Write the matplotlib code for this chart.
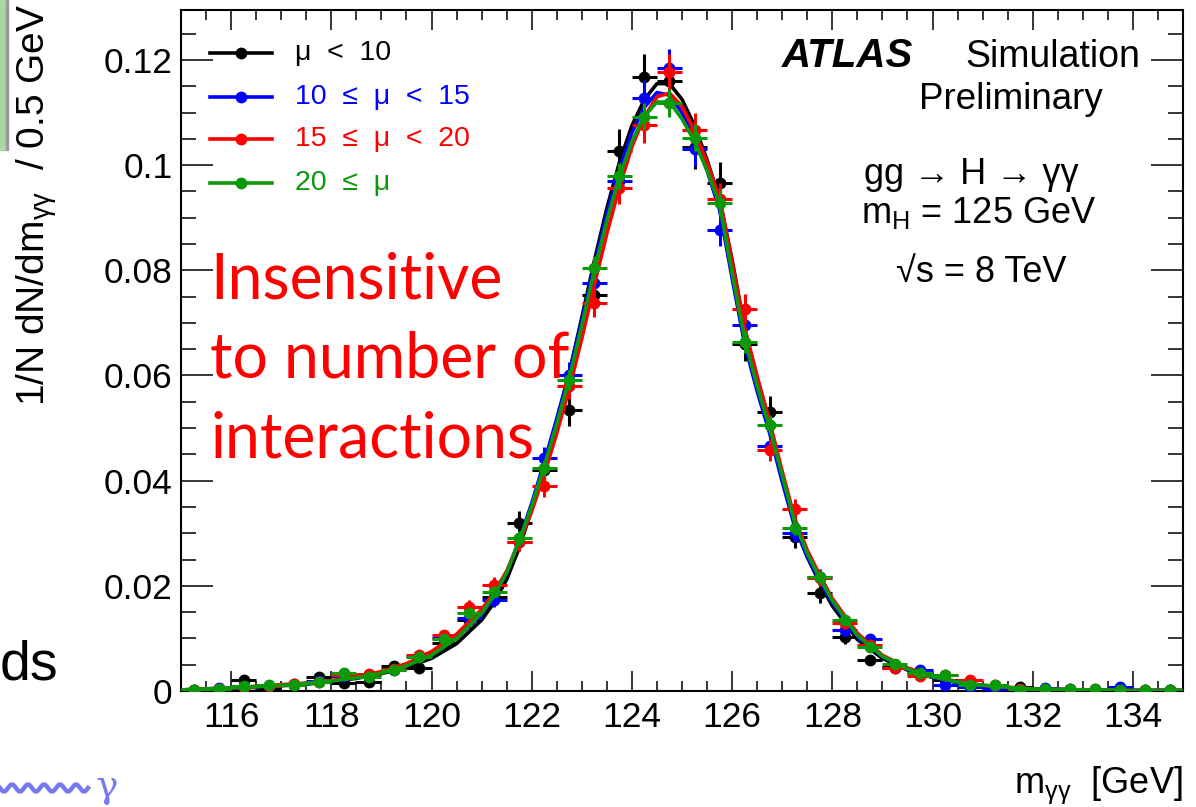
import numpy as np
import matplotlib.pyplot as plt
from matplotlib.lines import Line2D
from matplotlib.patches import Rectangle
from matplotlib.ticker import MultipleLocator, FixedLocator, FixedFormatter

plt.rcParams['font.family'] = ['Liberation Sans', 'DejaVu Sans']
plt.rcParams['mathtext.fontset'] = 'custom'
plt.rcParams['mathtext.rm'] = 'Liberation Sans'
plt.rcParams['mathtext.it'] = 'Liberation Sans:italic'

# ---------------- data ----------------
# bin centres, 0.5 GeV bins from 115 to 135
bin_centers = np.arange(115.25, 135.0, 0.5)

black_y = [0.0002, 0.0004, 0.0021, 0.0006, 0.0012, 0.0027, 0.0015, 0.0018, 0.0048, 0.0044,
           0.0091, 0.0135, 0.0179, 0.0319, 0.0420, 0.0534, 0.0753, 0.1026, 0.1167, 0.1160,
           0.1035, 0.0966, 0.0660, 0.0531, 0.0293, 0.0186, 0.0103, 0.0059, 0.0045, 0.0035,
           0.0020, 0.0012, 0.0008, 0.0008, 0.0001, 0.0002, 0.0001, 0.0001, 0.0000, 0.0001]
blue_y = [0.0002, 0.0005, 0.0008, 0.0010, 0.0014, 0.0019, 0.0028, 0.0031, 0.0040, 0.0067,
          0.0100, 0.0139, 0.0173, 0.0284, 0.0443, 0.0601, 0.0776, 0.0970, 0.1128, 0.1185,
          0.1030, 0.0877, 0.0696, 0.0465, 0.0300, 0.0217, 0.0116, 0.0099, 0.0044, 0.0040,
          0.0011, 0.0008, 0.0004, 0.0003, 0.0006, 0.0003, 0.0002, 0.0007, 0.0001, 0.0001]
red_y = [0.0001, 0.0004, 0.0008, 0.0010, 0.0013, 0.0018, 0.0030, 0.0033, 0.0042, 0.0068,
         0.0106, 0.0160, 0.0202, 0.0284, 0.0389, 0.0580, 0.0738, 0.0957, 0.1076, 0.1178,
         0.1067, 0.0935, 0.0727, 0.0458, 0.0346, 0.0215, 0.0129, 0.0088, 0.0044, 0.0029,
         0.0030, 0.0020, 0.0011, 0.0003, 0.0002, 0.0004, 0.0003, 0.0001, 0.0001, 0.0001]
green_y = [0.0002, 0.0003, 0.0009, 0.0011, 0.0011, 0.0018, 0.0034, 0.0027, 0.0040, 0.0065,
           0.0099, 0.0148, 0.0189, 0.0290, 0.0424, 0.0592, 0.0804, 0.0980, 0.1092, 0.1118,
           0.1052, 0.0928, 0.0664, 0.0506, 0.0310, 0.0217, 0.0135, 0.0084, 0.0051, 0.0034,
           0.0030, 0.0011, 0.0011, 0.0002, 0.0003, 0.0004, 0.0003, 0.0002, 0.0001, 0.0002]

# statistical errors (units of 1e-4)
black_err = [2, 3, 6, 3, 5, 7, 5, 6, 9, 9, 12, 15, 17, 23, 27, 30, 36, 42, 44, 44,
             42, 40, 33, 30, 22, 18, 13, 10, 9, 8, 6, 5, 4, 4, 1, 2, 1, 1, 0, 1]
blue_err = [1, 2, 3, 3, 4, 4, 5, 6, 6, 8, 10, 12, 13, 17, 21, 25, 28, 31, 34, 35,
            32, 30, 26, 22, 17, 15, 11, 10, 7, 6, 3, 3, 2, 2, 2, 2, 1, 3, 1, 1]
red_err = [1, 2, 3, 3, 4, 4, 5, 6, 6, 8, 10, 13, 14, 17, 20, 24, 27, 31, 33, 34,
           33, 31, 27, 21, 19, 15, 11, 9, 7, 5, 5, 4, 3, 2, 1, 2, 2, 1, 1, 1]
green_err = [1, 2, 2, 3, 3, 3, 5, 4, 5, 6, 8, 10, 11, 14, 16, 19, 23, 25, 26, 27,
             26, 24, 21, 18, 14, 12, 9, 7, 6, 5, 4, 3, 3, 1, 1, 2, 1, 1, 1, 1]

# fitted shapes
fit_x = [115.0, 115.5, 116.0, 116.5, 117.0, 117.5, 118.0, 118.5, 119.0, 119.5, 120.0, 120.5,
         121.0, 121.25, 121.5, 121.75, 122.0, 122.25, 122.5, 122.75, 123.0, 123.25, 123.5,
         123.75, 124.0, 124.25, 124.5, 124.75, 125.0, 125.25, 125.5, 125.75, 126.0, 126.25,
         126.5, 126.75, 127.0, 127.25, 127.5, 127.75, 128.0, 128.5, 129.0, 129.5, 130.0,
         130.5, 131.0, 131.5, 132.0, 132.5, 133.0, 133.5, 134.0, 134.5, 135.0]
black_fit = [0.0002, 0.0003, 0.0005, 0.0007, 0.0010, 0.0013, 0.0018, 0.0024, 0.0033, 0.0045,
             0.0062, 0.0090, 0.0135, 0.0168, 0.0212, 0.0272, 0.0345, 0.0425, 0.0512, 0.0605,
             0.0710, 0.0818, 0.0918, 0.1005, 0.1075, 0.1125, 0.1155, 0.1155, 0.1125, 0.1075,
             0.1010, 0.0935, 0.0820, 0.0690, 0.0595, 0.0510, 0.0410, 0.0318, 0.0255, 0.0205,
             0.0162, 0.0098, 0.0062, 0.0040, 0.0026, 0.0016, 0.0010, 0.0006, 0.0004, 0.0003,
             0.0002, 0.0001, 0.0001, 0.0001, 0.0001]
blue_fit = [0.0002, 0.0004, 0.0006, 0.0008, 0.0011, 0.0014, 0.0019, 0.0025, 0.0034, 0.0048,
            0.0068, 0.0100, 0.0146, 0.0180, 0.0225, 0.0287, 0.0357, 0.0435, 0.0518, 0.0605,
            0.0705, 0.0810, 0.0908, 0.0992, 0.1062, 0.1110, 0.1138, 0.1133, 0.1100, 0.1052,
            0.0990, 0.0915, 0.0785, 0.0660, 0.0570, 0.0490, 0.0398, 0.0312, 0.0255, 0.0210,
            0.0168, 0.0104, 0.0065, 0.0041, 0.0026, 0.0016, 0.0010, 0.0006, 0.0004, 0.0003,
            0.0002, 0.0002, 0.0001, 0.0001, 0.0001]
red_fit = [0.0002, 0.0004, 0.0006, 0.0009, 0.0012, 0.0015, 0.0020, 0.0027, 0.0037, 0.0052,
           0.0075, 0.0108, 0.0155, 0.0188, 0.0228, 0.0282, 0.0342, 0.0412, 0.0490, 0.0575,
           0.0670, 0.0772, 0.0870, 0.0958, 0.1035, 0.1092, 0.1130, 0.1137, 0.1112, 0.1065,
           0.1005, 0.0938, 0.0815, 0.0690, 0.0598, 0.0512, 0.0418, 0.0328, 0.0268, 0.0220,
           0.0176, 0.0110, 0.0068, 0.0044, 0.0028, 0.0018, 0.0011, 0.0007, 0.0004, 0.0003,
           0.0002, 0.0002, 0.0001, 0.0001, 0.0001]
green_fit = [0.0002, 0.0004, 0.0006, 0.0008, 0.0011, 0.0014, 0.0019, 0.0025, 0.0034, 0.0048,
             0.0068, 0.0100, 0.0148, 0.0182, 0.0225, 0.0285, 0.0352, 0.0428, 0.0508, 0.0595,
             0.0695, 0.0800, 0.0895, 0.0978, 0.1045, 0.1093, 0.1120, 0.1120, 0.1088, 0.1045,
             0.0990, 0.0925, 0.0795, 0.0670, 0.0580, 0.0500, 0.0410, 0.0320, 0.0262, 0.0215,
             0.0172, 0.0106, 0.0066, 0.0042, 0.0027, 0.0017, 0.0011, 0.0007, 0.0004, 0.0003,
             0.0002, 0.0002, 0.0001, 0.0001, 0.0001]

labels = ['μ  <  10', '10  ≤  μ  <  15', '15  ≤  μ  <  20', '20  ≤  μ']
colors = ['#000000', '#0000ff', '#ff0000', '#0a990a']
values = [black_y, blue_y, red_y, green_y]
errors = [black_err, blue_err, red_err, green_err]
fits = [black_fit, blue_fit, red_fit, green_fit]

y_ticks = [0, 0.02, 0.04, 0.06, 0.08, 0.1, 0.12]
y_tick_labels = ['0', '0.02', '0.04', '0.06', '0.08', '0.1', '0.12']

# ---------------- figure ----------------
W, H = 1196, 807
fig = plt.figure(figsize=(W / 100, H / 100), dpi=100)
ax = fig.add_axes([181 / W, 1 - 691 / H, 1002 / W, 681 / H])

for i, (c, y, e, f) in enumerate(zip(colors, values, errors, fits)):
    ax.errorbar(bin_centers, y, xerr=0.25, yerr=np.array(e) * 1e-4, fmt='o', color=c,
                ms=7.5, elinewidth=2.2, capsize=0, zorder=3 + i)
    ax.plot(fit_x, f, color=c, lw=2.6, zorder=3 + i)

ax.set_xlim(115, 135)
ax.set_ylim(0, 0.1295)
ax.xaxis.set_major_locator(MultipleLocator(2))
ax.xaxis.set_minor_locator(MultipleLocator(0.5))
ax.yaxis.set_major_locator(FixedLocator(y_ticks))
ax.yaxis.set_major_formatter(FixedFormatter(y_tick_labels))
ax.yaxis.set_minor_locator(MultipleLocator(0.005))
ax.tick_params(which='both', direction='in', top=True, right=True, width=1.1, labelsize=25.5)
ax.tick_params(axis='x', which='major', length=14.5, pad=7)
ax.tick_params(axis='x', which='minor', length=7)
ax.tick_params(axis='y', which='major', length=23, pad=6)
ax.tick_params(axis='y', which='minor', length=11)
for s in ax.spines.values():
    s.set_linewidth(1.5)

# axis titles
fig.text(37 / W, 1 - 4 / H, r'1/N dN/dm$_{\mathrm{γγ}}$  / 0.5 GeV', rotation=90,
         ha='center', va='top', fontsize=28)
fig.text(1183 / W, 1 - 793 / H, r'm$_{\mathrm{γγ}}$  [GeV]', ha='right', va='baseline',
         fontsize=26)

# legend
leg_rows = [53, 97, 139, 183]
for lab, c, py in zip(labels, colors, leg_rows):
    yy = 1 - py / H
    fig.add_artist(Line2D([210 / W, 272 / W], [yy, yy], color=c, lw=2.6,
                          transform=fig.transFigure))
    fig.add_artist(Line2D([241 / W], [yy], color=c, marker='o', ms=7.5,
                          transform=fig.transFigure))
    fig.text(295 / W, yy, lab, color=c, ha='left', va='center', fontsize=20.5)

# ATLAS labels
fig.text(782 / W, 1 - 67 / H, 'ATLAS', fontsize=29, fontweight='bold', fontstyle='italic',
         ha='left', va='baseline')
fig.text(1140 / W, 1 - 67 / H, 'Simulation', fontsize=27, ha='right', va='baseline')
fig.text(1103 / W, 1 - 109 / H, 'Preliminary', fontsize=26.5, ha='right', va='baseline')
fig.text(971 / W, 1 - 184 / H, 'gg → H → γγ', fontsize=26, ha='center', va='baseline')
fig.text(979 / W, 1 - 223 / H, r'm$_{\mathrm{H}}$ = 125 GeV', fontsize=26, ha='center',
         va='baseline')
fig.text(981 / W, 1 - 282 / H, '√s = 8 TeV', fontsize=26, ha='center', va='baseline')

# slide annotation
fig.text(210 / W, 1 - 457 / H, 'Insensitive\nto number of\ninteractions', color='#ff0000',
         fontsize=45, family=['Lato', 'DejaVu Sans'], ha='left', va='baseline',
         linespacing=1.45, zorder=10)

# cropped slide bits at the left edge
fig.add_artist(Rectangle((0, 1 - 150 / H), 6 / W, 150 / H, color='#a9d6a2',
                         transform=fig.transFigure))
fig.add_artist(Rectangle((6 / W, 1 - 150 / H), 2 / W, 150 / H, color='#9a9a9a',
                         transform=fig.transFigure))
fig.text(0, 1 - 680 / H, 'ds', fontsize=40, ha='left', va='baseline')
wx = np.linspace(0, 88, 200)
wy = 788 + 3.5 * np.sin(wx / 16 * 2 * np.pi)
fig.add_artist(Line2D(wx / W, 1 - wy / H, color='#7878f2', lw=3.2,
                      transform=fig.transFigure))
fig.text(96 / W, 1 - 797 / H, 'γ', color='#7878f2', fontsize=27, ha='left', va='baseline',
         family=['DejaVu Serif'])

fig.savefig('out.png', dpi=100)
